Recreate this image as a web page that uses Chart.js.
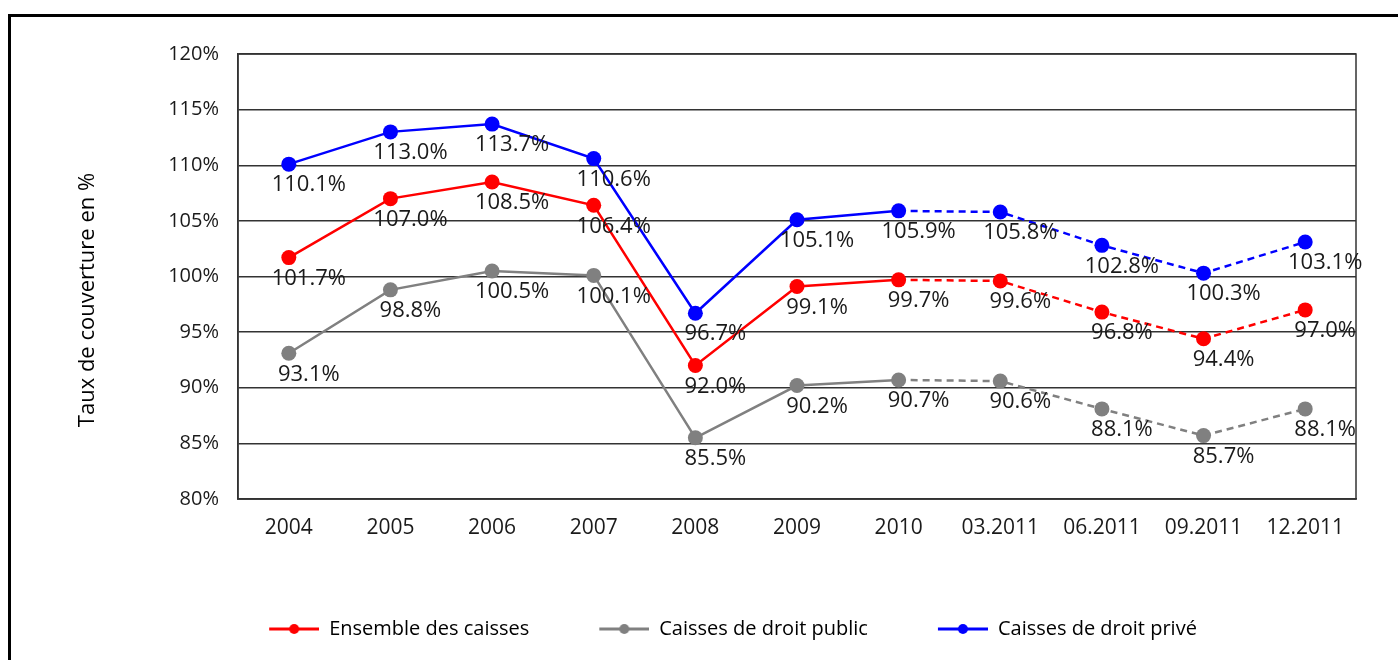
<!DOCTYPE html>
<html>
<head>
<meta charset="utf-8">
<title>Taux de couverture</title>
<script src="https://cdn.jsdelivr.net/npm/chart.js@4.4.1/dist/chart.umd.min.js"></script>
<style>
    html, body { margin: 0; padding: 0; background: #fff; overflow: hidden; }
    #wrap { position: absolute; left: 0; top: 0; width: 1398px; height: 660px; }
    #frame { position: absolute; left: 8px; top: 14px; width: 1500px; height: 800px;
             border-top: 3px solid #000; border-left: 3px solid #000; pointer-events: none; }
</style>
</head>
<body>
<div id="wrap"><canvas id="chart"></canvas></div>
<div id="frame"></div>
<script>
// Données
const periodes = ["2004", "2005", "2006", "2007", "2008", "2009", "2010", "03.2011", "06.2011", "09.2011", "12.2011"];
const ensembleCaisses = [101.7, 107.0, 108.5, 106.4, 92.0, 99.1, 99.7, 99.6, 96.8, 94.4, 97.0];
const droitPublic = [93.1, 98.8, 100.5, 100.1, 85.5, 90.2, 90.7, 90.6, 88.1, 85.7, 88.1];
const droitPrive = [110.1, 113.0, 113.7, 110.6, 96.7, 105.1, 105.9, 105.8, 102.8, 100.3, 103.1];
const seriesNames = ["Ensemble des caisses", "Caisses de droit public", "Caisses de droit privé"];
const seriesColors = ["#ff0000", "#808080", "#0000ff"];
const yTicks = [80, 85, 90, 95, 100, 105, 110, 115, 120];
const dashFrom = 6; // les valeurs trimestrielles (depuis 2010) sont en pointillé

Chart.defaults.font.family = "'Open Sans', 'DejaVu Sans', sans-serif";
Chart.defaults.color = "#1a1a1a";

// petit dessin ligne + point pour la légende
function legendMarker(color) {
    const c = document.createElement("canvas");
    c.width = 110;
    c.height = 14;
    const g = c.getContext("2d");
    g.strokeStyle = color;
    g.lineWidth = 3;
    g.beginPath();
    g.moveTo(60, 7);
    g.lineTo(110, 7);
    g.stroke();
    g.fillStyle = color;
    g.beginPath();
    g.arc(85, 7, 5, 0, Math.PI * 2);
    g.fill();
    return c;
}

function makeDataset(i, values) {
    return {
        label: seriesNames[i],
        data: values,
        borderColor: seriesColors[i],
        backgroundColor: seriesColors[i],
        pointBackgroundColor: seriesColors[i],
        pointBorderWidth: 0,
        pointRadius: 7.5,
        pointHoverRadius: 7.5,
        borderWidth: 2.5,
        tension: 0,
        segment: {
            borderDash: ctx => ctx.p0DataIndex >= dashFrom ? [7, 5] : undefined
        }
    };
}

// étiquettes de valeurs sous les points
const valueLabels = {
    id: "valueLabels",
    afterDatasetsDraw(chart) {
        const ctx = chart.ctx;
        ctx.save();
        ctx.font = "22px 'Open Sans', 'DejaVu Sans', sans-serif";
        ctx.fillStyle = "#1a1a1a";
        ctx.textAlign = "center";
        ctx.textBaseline = "middle";
        chart.data.datasets.forEach((ds, i) => {
            chart.getDatasetMeta(i).data.forEach((pt, j) => {
                ctx.fillText(ds.data[j].toFixed(1) + "%", pt.x + 20, pt.y + 21);
            });
        });
        ctx.restore();
    }
};

// cadre de la zone de tracé + titre de l'axe vertical
const plotFrame = {
    id: "plotFrame",
    beforeDatasetsDraw(chart) {
        const a = chart.chartArea;
        const ctx = chart.ctx;
        ctx.save();
        ctx.strokeStyle = "#333";
        ctx.lineWidth = 1.5;
        ctx.strokeRect(a.left, a.top, a.right - a.left, a.bottom - a.top);
        ctx.restore();
    },
    afterDraw(chart) {
        const ctx = chart.ctx;
        ctx.save();
        ctx.translate(88, 300);
        ctx.rotate(-Math.PI / 2);
        ctx.font = "22px 'Open Sans', 'DejaVu Sans', sans-serif";
        ctx.fillStyle = "#000";
        ctx.textAlign = "center";
        ctx.textBaseline = "middle";
        ctx.fillText("Taux de couverture en %", 0, 0);
        ctx.restore();
    }
};

new Chart(document.getElementById("chart"), {
    type: "line",
    data: {
        labels: periodes,
        datasets: [
            makeDataset(0, ensembleCaisses),
            makeDataset(1, droitPublic),
            makeDataset(2, droitPrive)
        ]
    },
    options: {
        responsive: true,
        maintainAspectRatio: false,
        animation: false,
        layout: {
            padding: { top: 54, left: 50, right: 42, bottom: 11 }
        },
        scales: {
            x: {
                offset: true,
                grid: { display: false, drawTicks: false },
                border: { display: true, color: "#333", width: 1.5 },
                ticks: { padding: 16, font: { size: 21 }, color: "#1a1a1a" },
                afterFit: scale => { scale.height = 110; }
            },
            y: {
                min: yTicks[0],
                max: yTicks[yTicks.length - 1],
                afterBuildTicks: scale => { scale.ticks = yTicks.map(v => ({ value: v })); },
                grid: { color: "#333", lineWidth: 1.5, drawTicks: false },
                border: { display: true, color: "#333", width: 1.5 },
                ticks: {
                    padding: 19,
                    font: { size: 20 },
                    color: "#1a1a1a",
                    callback: v => v + "%"
                },
                afterFit: scale => { scale.width = 238 - 50; }
            }
        },
        plugins: {
            legend: {
                position: "bottom",
                labels: {
                    usePointStyle: true,
                    pointStyleWidth: 110,
                    boxHeight: 14,
                    padding: 10,
                    color: "#1a1a1a",
                    font: { size: 20 },
                    generateLabels: chart => chart.data.datasets.map((ds, i) => ({
                        text: ds.label,
                        pointStyle: legendMarker(seriesColors[i]),
                        fillStyle: seriesColors[i],
                        strokeStyle: seriesColors[i],
                        lineWidth: 0,
                        hidden: false,
                        datasetIndex: i
                    }))
                }
            },
            tooltip: { enabled: false }
        }
    },
    plugins: [valueLabels, plotFrame]
});
</script>
</body>
</html>
